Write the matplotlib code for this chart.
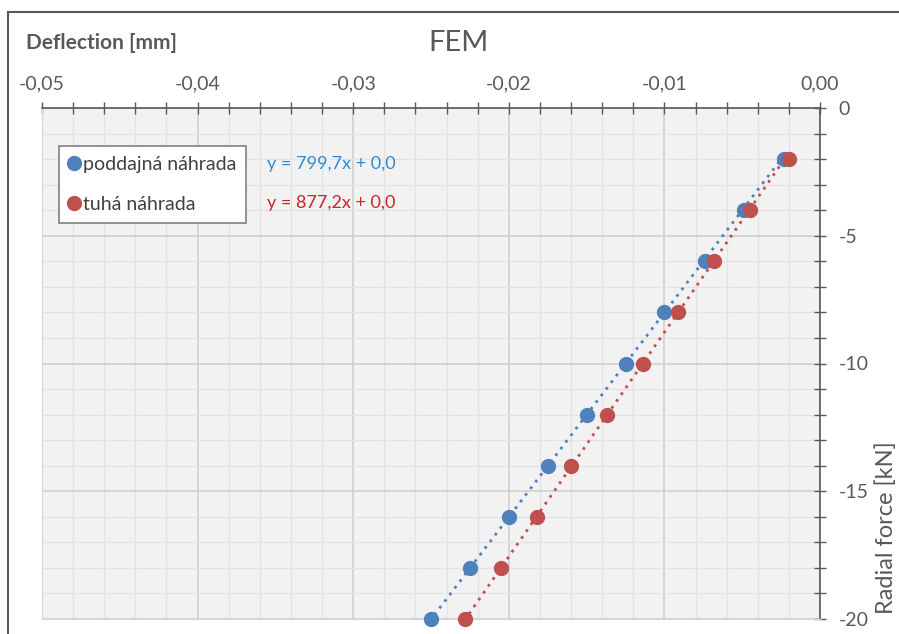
import numpy as np
import matplotlib.pyplot as plt
from matplotlib.ticker import MultipleLocator, FuncFormatter
from matplotlib.lines import Line2D

# --- data ---
force = [-2, -4, -6, -8, -10, -12, -14, -16, -18, -20]            # kN
defl_poddajna = [-0.0023, -0.0049, -0.0074, -0.0100, -0.0125,
                 -0.0150, -0.0175, -0.0200, -0.0225, -0.0250]     # mm
defl_tuha = [-0.0020, -0.0045, -0.0068, -0.0091, -0.0114,
             -0.0137, -0.0160, -0.0182, -0.0205, -0.0228]         # mm

NAME_1 = "poddajná náhrada"
NAME_2 = "tuhá náhrada"
EQ_1 = "y = 799,7x + 0,0"
EQ_2 = "y = 877,2x + 0,0"

BLUE = "#4F81BD"
RED = "#C0504D"
GREY_TXT = "#595959"

plt.rcParams['font.family'] = ['Lato', 'DejaVu Sans']

fig = plt.figure(figsize=(8.99, 6.34), dpi=100)
W, H = 899, 634
ax = fig.add_axes([42 / W, 1 - 619 / H, 778 / W, 511 / H])
ax.set_facecolor("#f2f2f2")

# trend lines through origin (least squares)
for xs, col in [(defl_poddajna, BLUE), (defl_tuha, RED)]:
    xs = np.array(xs)
    ys = np.array(force)
    k = np.sum(xs * ys) / np.sum(xs * xs)
    ax.plot([xs.max(), xs.min()], [k * xs.max(), k * xs.min()], ls=(0, (1, 2)),
            color=col, lw=2, zorder=3)

ax.plot(defl_poddajna, force, 'o', color=BLUE, ms=10, zorder=4, clip_on=False)
ax.plot(defl_tuha, force, 'o', color=RED, ms=10, zorder=4, clip_on=False)

ax.set_xlim(-0.05, 0.0)
ax.set_ylim(-20, 0)

ax.xaxis.tick_top()
ax.yaxis.tick_right()
ax.xaxis.set_major_locator(MultipleLocator(0.01))
ax.xaxis.set_minor_locator(MultipleLocator(0.002))
ax.yaxis.set_major_locator(MultipleLocator(5))
ax.yaxis.set_minor_locator(MultipleLocator(1))
ax.xaxis.set_major_formatter(FuncFormatter(lambda v, p: f"{v:.2f}".replace('.', ',').replace('-0,00', '0,00')))
ax.yaxis.set_major_formatter(FuncFormatter(lambda v, p: f"{int(round(v))}"))

ax.tick_params(which='both', direction='inout', color=GREY_TXT, width=1)
ax.tick_params(which='major', length=9, labelsize=14, labelcolor=GREY_TXT)
ax.tick_params(which='minor', length=9)
ax.tick_params(axis='x', which='major', pad=7)
ax.tick_params(axis='y', which='major', pad=9)

ax.grid(which='major', color="#d0d0d0", lw=1.2, zorder=0)
ax.grid(which='minor', color="#e3e3e3", lw=1.0, zorder=0)
ax.set_axisbelow(True)

for s in ['top', 'right']:
    ax.spines[s].set_color(GREY_TXT)
    ax.spines[s].set_linewidth(1.2)
for s in ['left', 'bottom']:
    ax.spines[s].set_color("#d6d6d6")

handles = [Line2D([], [], marker='o', ls='none', color=BLUE, ms=10),
           Line2D([], [], marker='o', ls='none', color=RED, ms=10)]
leg = ax.legend(handles, [NAME_1, NAME_2], loc='upper left',
                bbox_to_anchor=((59 - 42) / 778, 1 - (146 - 108) / 511),
                borderaxespad=0, fontsize=14, frameon=True, fancybox=False,
                framealpha=1, edgecolor="#808080", handlelength=0.5,
                handletextpad=0.25, labelspacing=1.2, borderpad=0.5,
                labelcolor="#404040")
leg.get_frame().set_linewidth(1.2)

ax.text((267 - 42) / 778, 1 - (164 - 108) / 511, EQ_1, transform=ax.transAxes,
        color="#2F8AD4", fontsize=13, va='center', ha='left')
ax.text((267 - 42) / 778, 1 - (203 - 108) / 511, EQ_2, transform=ax.transAxes,
        color="#C8252A", fontsize=13, va='center', ha='left')

fig.text(459 / W, 1 - 43 / H, "FEM", fontsize=21, color=GREY_TXT, ha='center', va='center')
fig.text(26 / W, 1 - 43 / H, "Deflection [mm]", fontsize=15, fontweight='bold',
         color=GREY_TXT, ha='left', va='center')
fig.text(886 / W, 1 - 528 / H, "Radial force [kN]", fontsize=17, color=GREY_TXT,
         rotation=90, ha='center', va='center')

# outer chart border (cropped)
fig.add_artist(Line2D([8 / W, 1.0], [1 - 12 / H, 1 - 12 / H], color=GREY_TXT, lw=1.5,
                      transform=fig.transFigure))
fig.add_artist(Line2D([8 / W, 8 / W], [1 - 12 / H, 0.0], color=GREY_TXT, lw=1.5,
                      transform=fig.transFigure))

fig.savefig("out.png", dpi=100)
